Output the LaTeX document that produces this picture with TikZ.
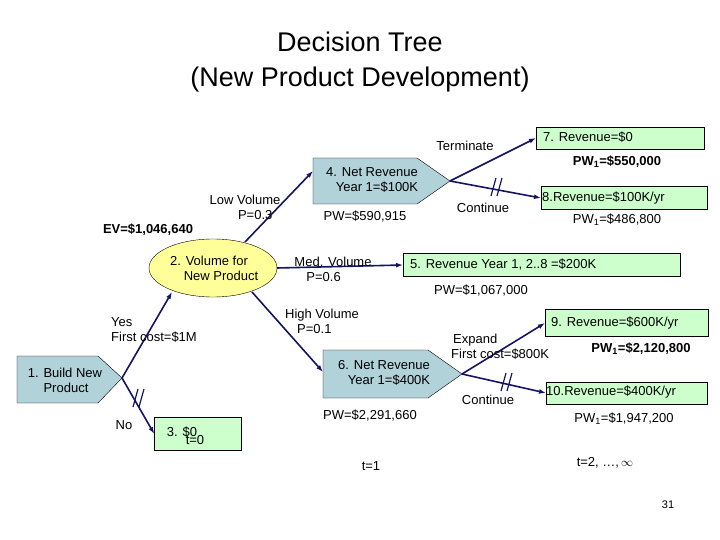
\documentclass[tikz,border=0pt]{standalone}
\usepackage{fontspec}
\setmainfont{Liberation Sans}
\usetikzlibrary{arrows.meta,shapes.geometric}
\definecolor{bluebox}{RGB}{178,210,218}
\definecolor{greenbox}{RGB}{204,255,204}
\definecolor{yell}{RGB}{255,255,153}
\definecolor{navy}{RGB}{20,20,100}
\begin{document}
\begin{tikzpicture}[x=1pt,y=-1pt,
  lbl/.style={font=\fontsize{13}{15}\selectfont, inner sep=0pt, align=center},
  lblb/.style={lbl, font=\fontsize{13}{15}\selectfont\bfseries},
  gbox/.style={draw=black, fill=greenbox, minimum height=22pt, inner sep=0pt},
  edge/.style={navy, line width=1.6pt, -{Latex[length=7pt,width=5pt]}},
  slash/.style={navy, line width=1.2pt}]
\useasboundingbox (0,0) rectangle (720,540);
\node[font=\fontsize{27}{30}\selectfont] (t1) at (360,42) {Decision Tree};
\node[font=\fontsize{27}{30}\selectfont] (t2) at (360,80) {(New Product Development)};
% node 1
\fill[bluebox,draw=black] (17,356) -- (98,356) -- (122,378) -- (98,403) -- (17,403) -- cycle;
\coordinate (n1) at (122,378);
\node[lbl,align=left] (n1t) at (65,380) {1. Build New\\\phantom{1. }Product};
% node 2
\node[ellipse, draw=black, fill=yell, minimum width=128pt, minimum height=58pt, inner sep=0pt] (n2) at (213,268) {};
\node[lbl] (n2t) at (215,268) {\hspace*{-12pt}2. Volume for\\\hspace*{12pt}New Product};
% node 3
\node[gbox, minimum width=87pt, minimum height=33pt] (n3) at (198,434) {};
\node[lbl] (n3t) at (182,432) {3. \$0};
% node 4
\fill[bluebox,draw=black] (313,158) -- (417,158) -- (450,181) -- (417,204) -- (313,204) -- cycle;
\coordinate (n4) at (450,181);
\coordinate (n4l) at (313,171);
\node[lbl] (n4t) at (372,180) {4. Net Revenue\\\hspace*{10pt}Year 1=\$100K};
% node 6
\fill[bluebox,draw=black] (323,350) -- (428,350) -- (462,374) -- (428,398) -- (323,398) -- cycle;
\coordinate (n6) at (462,374);
\coordinate (n6l) at (323,372);
\node[lbl] (n6t) at (384,373) {6. Net Revenue\\\hspace*{10pt}Year 1=\$400K};
% green boxes
\node[gbox, minimum width=168pt, anchor=west] (n7) at (536,138) {};
\node[lbl, anchor=west] (n7t) at (543,137) {7. Revenue=\$0};
\node[gbox, minimum width=166pt, minimum height=23pt, anchor=west] (n8) at (541,198) {};
\node[lbl, anchor=west] (n8t) at (542,198) {8.Revenue=\$100K/yr};
\node[gbox, minimum width=277pt, minimum height=23pt, anchor=west] (n5) at (403,265) {};
\node[lbl, anchor=west] (n5t) at (410,265) {5. Revenue Year 1, 2..8 =\$200K};
\node[gbox, minimum width=163pt, minimum height=27pt, anchor=west] (n9) at (545,323) {};
\node[lbl, anchor=west] (n9t) at (551,323) {9. Revenue=\$600K/yr};
\node[gbox, minimum width=161pt, anchor=west] (n10) at (546,393) {};
\node[lbl, anchor=west] (n10t) at (546,392) {10.Revenue=\$400K/yr};
% edges
\draw[edge] (n1) -- (172,292);
\draw[edge] (n1) -- (n3.west);
\draw[edge] (245,242) -- (n4l);
\draw[edge] (277,268) -- (n5.west);
\draw[edge] (252,292) -- (n6l);
\draw[edge] (n4) -- (n7.west);
\draw[edge] (n4) -- (n8.west);
\draw[edge] (n6) -- (n9.west);
\draw[edge] (n6) -- (n10.west);
% slashes
\foreach \x/\y in {137/398, 495/187, 505/382}{
  \draw[slash] (\x-4,\y+9) -- (\x+1,\y-9);
  \draw[slash] (\x+2,\y+9) -- (\x+7,\y-9);
}
% labels
\node[lbl, align=right] (lv) at (245,207) {Low Volume\\P=0.3\hspace*{8pt}};
\node[lblb] (ev) at (148,230) {EV=\$1,046,640};
\node[lbl, align=left] (mv) at (333,269) {Med. Volume\\\hspace*{12pt}P=0.6};
\node[lbl, align=left] (hv) at (322,321) {High Volume\\\hspace*{12pt}P=0.1};
\node[lbl, align=left, anchor=west] (yes) at (111,330) {Yes\\First cost=\$1M};
\node[lbl] (no) at (124,425) {No};
\node[lbl] (pw4) at (365,217) {PW=\$590,915};
\node[lbl] (pw5) at (481,291) {PW=\$1,067,000};
\node[lbl] (pw6) at (370,416) {PW=\$2,291,660};
\node[lbl] (term) at (465,146) {Terminate};
\node[lbl] (cont1) at (483,208) {Continue};
\node[lblb] (pw7) at (617,162) {PW\textsubscript{1}=\$550,000};
\node[lbl] (pw8) at (617,220) {PW\textsubscript{1}=\$486,800};
\node[lbl, align=left, anchor=west] (exp) at (451,347) {\hspace*{2pt}Expand\\First cost=\$800K};
\node[lblb] (pw9) at (641,349) {PW\textsubscript{1}=\$2,120,800};
\node[lbl] (cont2) at (488,400) {Continue};
\node[lbl] (pw10) at (624,419) {PW\textsubscript{1}=\$1,947,200};
\node[lbl] (tz) at (195,440) {t=0};
\node[lbl] (to) at (371,466) {t=1};
\node[lbl] (tt) at (605,463) {t=2, …,\,$\infty$};
\node[font=\fontsize{11}{13}\selectfont] (pg) at (668,505) {31};
\end{tikzpicture}
\end{document}
